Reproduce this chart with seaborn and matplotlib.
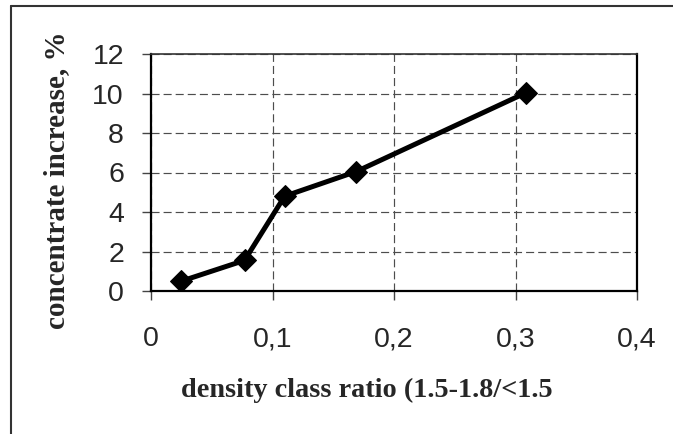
import numpy as np
import pandas as pd
import matplotlib
matplotlib.use("Agg")
import matplotlib.pyplot as plt
from matplotlib.lines import Line2D
import seaborn as sns

# values
density_ratio = [0.025, 0.077, 0.110, 0.169, 0.309]
concentrate_increase = [0.5, 1.55, 4.8, 6.05, 10.05]
x_ticks = [0, 0.1, 0.2, 0.3, 0.4]
x_tick_labels = ["0", "0,1", "0,2", "0,3", "0,4"]
y_ticks = [0, 2, 4, 6, 8, 10, 12]

df = pd.DataFrame({"ratio": density_ratio, "increase": concentrate_increase})

sns.set_style("white")
plt.rcParams["font.family"] = ["Liberation Sans", "DejaVu Sans"]
plt.rcParams["lines.scale_dashes"] = False

W, H = 673, 434
fig = plt.figure(figsize=(W / 100, H / 100), dpi=100)
# plot area in pixels: x 151..637, y 54..291
ax = fig.add_axes([151 / W, 1 - 291 / H, (637 - 151) / W, (291 - 54) / H])

sns.lineplot(data=df, x="ratio", y="increase", ax=ax, color="black",
             linewidth=3.6, marker="D", markersize=11,
             markeredgecolor="black", markerfacecolor="black")

ax.set_xlim(0, 0.4)
ax.set_ylim(0, 12)
ax.set_xticks(x_ticks)
ax.set_xticklabels(x_tick_labels)
ax.set_yticks(y_ticks)

ax.grid(True, color="#4d4d4d", linestyle=(0, (5.8, 2.9)), linewidth=0.85)
ax.set_axisbelow(True)

for side in ["left", "bottom", "right"]:
    ax.spines[side].set_color("black")
    ax.spines[side].set_linewidth(1.6)
ax.spines["top"].set_color("#333333")
ax.spines["top"].set_linewidth(1.2)

ax.tick_params(axis="y", direction="out", length=6.5, width=1, color="#444444",
               labelsize=20.5, pad=13, left=True)
ax.tick_params(axis="x", direction="out", length=6.5, width=1, color="#444444",
               labelsize=20.5, pad=19, bottom=True)

serif_bold = dict(family=["Liberation Serif", "DejaVu Serif"], weight="bold")
ax.set_xlabel("density class ratio (1.5-1.8/<1.5", fontsize=20.3, **serif_bold)
ax.set_ylabel("concentrate increase, %", fontsize=21, **serif_bold)
ax.xaxis.label.set_va("center")
ax.yaxis.label.set_va("center")
ax.xaxis.set_label_coords(0.444, -0.418)
ax.yaxis.set_label_coords(-0.195, 0.469)

# outer frame (only top and left edges visible in the reference)
fig.add_artist(Line2D([11 / W, 11 / W], [0, 1 - 6 / H], color="#333333", linewidth=1.5))
fig.add_artist(Line2D([11 / W, 1], [1 - 6 / H, 1 - 6 / H], color="#333333", linewidth=1.5))

fig.savefig("out.png", dpi=100)
